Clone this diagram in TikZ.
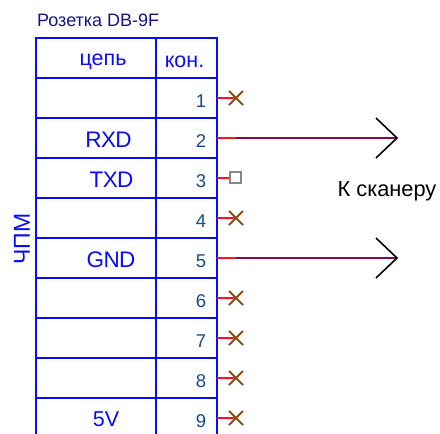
\documentclass[tikz,border=0pt]{standalone}
\usepackage{fontspec}
\usetikzlibrary{calc}
\setmainfont{Liberation Sans}
\definecolor{gridblue}{RGB}{10,10,255}
\definecolor{numblue}{RGB}{20,75,140}
\definecolor{titleblue}{RGB}{20,20,130}
\definecolor{wirered}{RGB}{255,20,20}
\definecolor{wirepurple}{RGB}{125,10,80}
\definecolor{xbrown}{RGB}{140,80,20}
\definecolor{sqgray}{RGB}{135,135,135}
\newfontfamily\tightfont[LetterSpace=-3]{Liberation Sans}
\tikzset{
  gridline/.style={draw=gridblue,line width=2pt},
  cellt/.style={text=gridblue,font=\fontsize{21.5}{22}\selectfont,inner sep=0pt,anchor=center},
  codet/.style={text=gridblue,font=\tightfont\fontsize{22.5}{23}\selectfont,inner sep=0pt,anchor=center},
  numt/.style={text=numblue,font=\fontsize{18.5}{19}\selectfont,inner sep=0pt,anchor=center},
  stub/.style={draw=wirered,line width=1.8pt},
  longwire/.style={draw=wirepurple,line width=1.8pt},
  xmark/.style={draw=xbrown,line width=1.8pt},
  open/.style={draw=sqgray,fill=white,line width=2pt,minimum size=11pt,inner sep=0pt},
  chevron/.style={draw=black,line width=1.6pt}
}
\begin{document}
\begin{tikzpicture}[x=1pt,y=-1pt]
\useasboundingbox (0,0) rectangle (440,434);
\clip (0,0) rectangle (440,434);
\node[text=titleblue,font=\fontsize{18}{18}\selectfont,inner sep=0pt,anchor=west] (title) at (37,20) {Розетка DB-9F};
% grid
\foreach \y in {38,78,118,158,198,238,278,318,358,398}
  \draw[gridline] (36,\y) -- (216.5,\y);
\draw[gridline] (36,37) -- (36,436);
\draw[gridline] (156,38) -- (156,436);
\draw[gridline] (216.5,37) -- (216.5,436);
% headers
\node[cellt] (hc) at (103,61.5) {цепь};
\node[cellt] (hk) at (184.5,61.5) {кон.};
\node[codet] (rxd) at (108.5,139.5) {RXD};
\node[codet] (txd) at (111.5,179.5) {TXD};
\node[codet] (gnd) at (111,259.5) {GND};
\node[cellt] (fv) at (106,419.5) {5V};
\node[cellt,font=\fontsize{23}{23}\selectfont,rotate=90] (cpm) at (22,239) {ЧПМ};
% pin numbers
\foreach \n/\y in {1/101,2/141,3/181,4/221,5/261,6/301,7/341,8/381,9/421}
  \node[numt] (p\n) at (201,\y) {\n};
% pin ends
\foreach \n/\y in {1/98,2/138,3/178,4/218,5/258,6/298,7/338,8/378,9/418} {
  \coordinate (s\n) at (216.5,\y);
  \coordinate (e\n) at (236,\y);
}
% wires
\foreach \n in {1,4,6,7,8,9} {
  \draw[stub] (s\n) -- (e\n);
  \draw[xmark] ($(e\n)+(-7,-7)$) -- ($(e\n)+(7,7)$);
  \draw[xmark] ($(e\n)+(-7,7)$) -- ($(e\n)+(7,-7)$);
}
\draw[stub] (s3) -- (e3);
\node[open] (sq3) at (235.5,177.5) {};
\coordinate (a2) at (397,138);
\coordinate (a5) at (397,258);
\foreach \n in {2,5} {
  \draw[longwire] (e\n) -- (a\n);
  \draw[stub] (s\n) -- (e\n);
  \draw[chevron] ($(a\n)+(-21,-20)$) -- (a\n) -- ($(a\n)+(-21,20)$);
}
\node[text=black,font=\fontsize{21.8}{22}\selectfont,inner sep=0pt,anchor=center] (sc) at (387,191) {К сканеру};
\end{tikzpicture}
\end{document}
